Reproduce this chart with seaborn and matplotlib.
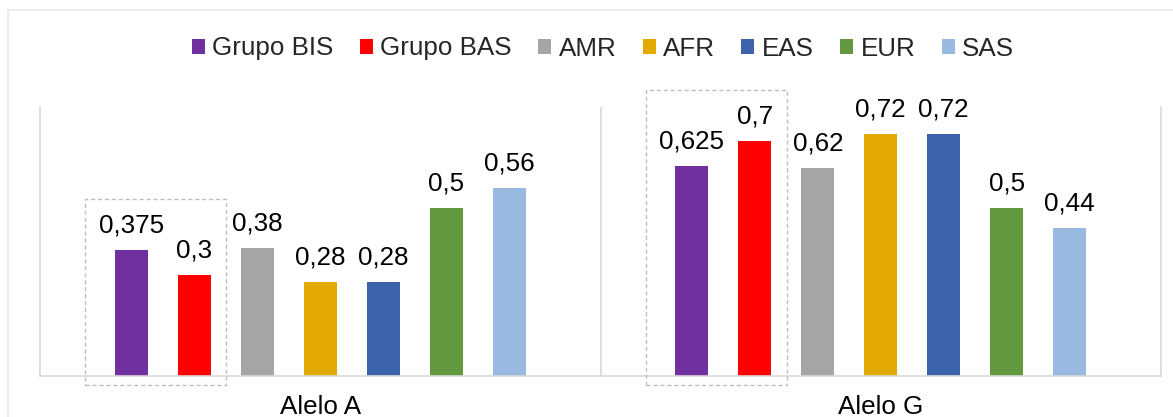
import matplotlib
matplotlib.use("Agg")
import matplotlib.pyplot as plt
from matplotlib.patches import Patch, Rectangle
import pandas as pd
import seaborn as sns

# Allele frequencies by study group / 1000 Genomes super-population
alleles = ["Alelo A", "Alelo G"]
groups = ["Grupo BIS", "Grupo BAS", "AMR", "AFR", "EAS", "EUR", "SAS"]
freq_a = [0.375, 0.3, 0.38, 0.28, 0.28, 0.5, 0.56]
freq_g = [0.625, 0.7, 0.62, 0.72, 0.72, 0.5, 0.44]
colors = ["#7030A0", "#FF0000", "#A5A5A5", "#E2AA00", "#3C64AC", "#62993E", "#98B9E0"]

rows = []
for allele, vals in zip(alleles, [freq_a, freq_g]):
    for g, v in zip(groups, vals):
        rows.append({"alelo": allele, "grupo": g, "freq": v})
df = pd.DataFrame(rows)

sns.set_theme(style="white")
plt.rcParams["font.family"] = ["Liberation Sans", "DejaVu Sans"]

W, H = 1173, 417
fig = plt.figure(figsize=(W / 100, H / 100), dpi=100)
ax = fig.add_axes([40 / W, 1 - 376 / H, (1161 - 40) / W, (376 - 107) / H])

sns.barplot(data=df, x="alelo", y="freq", hue="grupo", order=alleles,
            hue_order=groups, palette=colors, width=0.786, gap=0.476,
            saturation=1, legend=False, ax=ax, linewidth=0)

ax.set_ylim(0, 0.8)
ax.set_xlim(-0.5, 1.5)
ax.set_xlabel("")
ax.set_ylabel("")
ax.set_yticks([])
ax.tick_params(axis="x", length=0, pad=14, labelsize=18.7, colors="black")

grid_col = "#D9D9D9"
for side in ["left", "right", "bottom"]:
    ax.spines[side].set_visible(True)
    ax.spines[side].set_color(grid_col)
    ax.spines[side].set_linewidth(1.2)
ax.spines["top"].set_visible(False)
ax.axvline(0.5, color=grid_col, lw=1.2, zorder=0)

# value labels above each bar
for cont, g in zip(ax.containers, groups):
    vals = df[df["grupo"] == g].set_index("alelo").loc[alleles, "freq"]
    labels = [f"{v:g}".replace(".", ",") for v in vals]
    ax.bar_label(cont, labels=labels, padding=9, fontsize=18.7, color="black")

# dashed box around the two study groups of each allele
for j in range(len(alleles)):
    b0 = ax.containers[0][j]
    b1 = ax.containers[1][j]
    top = max(b0.get_height(), b1.get_height()) + 0.15
    left = b0.get_x() - 0.053
    right = b1.get_x() + b1.get_width() + 0.027
    ax.add_patch(Rectangle((left, -0.028), right - left, top + 0.028,
                           fill=False, ls=(0, (3, 2)), lw=1.0,
                           edgecolor="#BFBFBF", clip_on=False, zorder=3))

handles = [Patch(facecolor=c, edgecolor="none", label=g) for g, c in zip(groups, colors)]
fig.legend(handles=handles, loc="center", bbox_to_anchor=(603 / W, 1 - 48.5 / H),
           ncol=len(groups), frameon=False, fontsize=18.7, handlelength=0.5,
           handleheight=0.5, handletextpad=0.3, columnspacing=1.0,
           borderaxespad=0, borderpad=0)

# light outer frame of the chart area
fig.patches.append(Rectangle((8 / W, -0.1), 1.2, 1 - 10 / H + 0.1,
                             transform=fig.transFigure, fill=False,
                             edgecolor="#EBEBEB", lw=1.5))

fig.savefig("out.png", dpi=100)
